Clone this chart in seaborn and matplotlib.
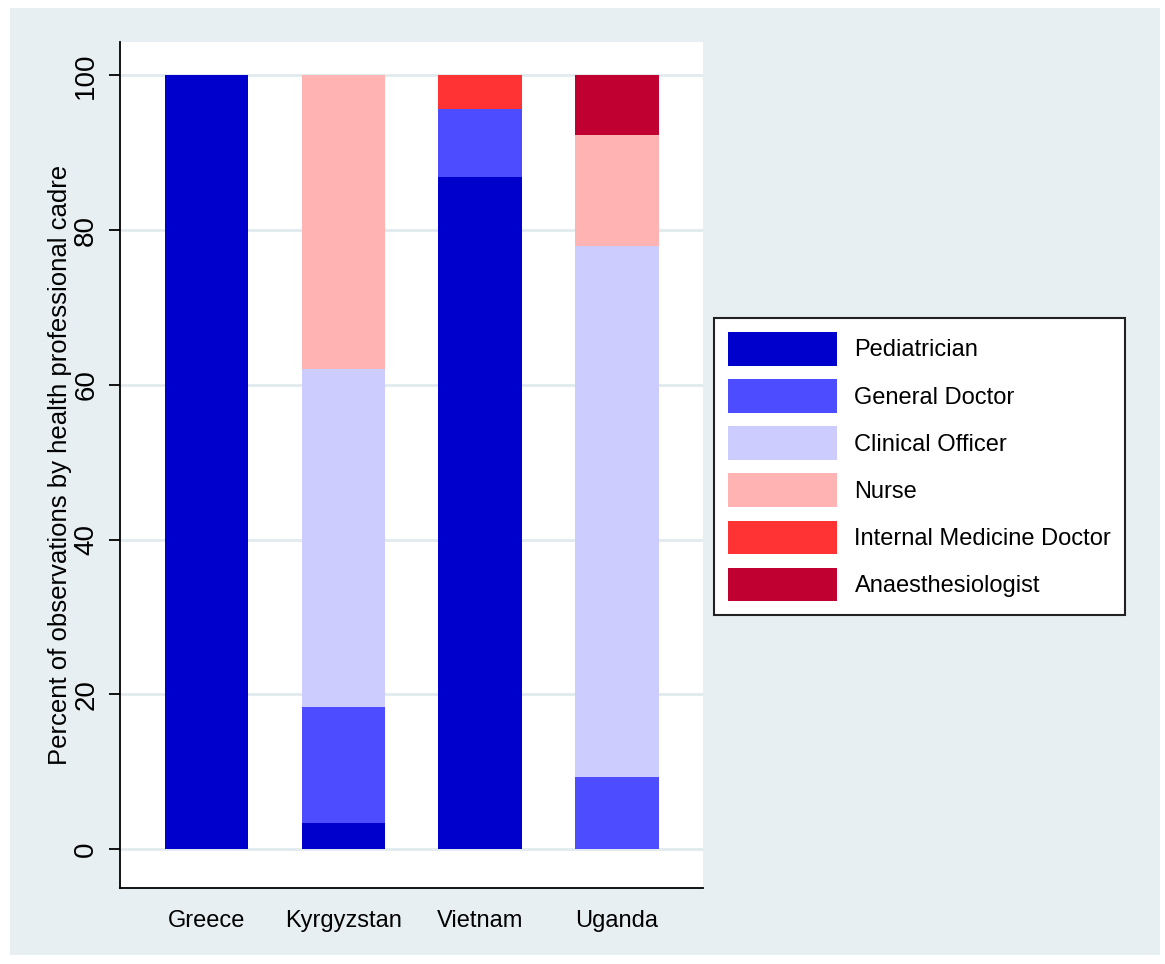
import matplotlib
matplotlib.use("Agg")
import matplotlib.pyplot as plt
from matplotlib.patches import Patch, Rectangle
import seaborn as sns
import numpy as np

# --- DADOS ---
countries = ["Greece", "Kyrgyzstan", "Vietnam", "Uganda"]
cadres = ["Pediatrician", "General Doctor", "Clinical Officer", "Nurse",
          "Internal Medicine Doctor", "Anaesthesiologist"]

pediatrician = [100.0, 3.4, 86.9, 0.0]
general_doctor = [0.0, 15.0, 8.8, 9.4]
clinical_officer = [0.0, 43.7, 0.0, 68.6]
nurse = [0.0, 37.9, 0.0, 14.3]
internal_medicine = [0.0, 0.0, 4.3, 0.0]
anaesthesiologist = [0.0, 0.0, 0.0, 7.7]

series = [pediatrician, general_doctor, clinical_officer, nurse,
          internal_medicine, anaesthesiologist]
colors = ["#0000cc", "#4d4dff", "#ccccff", "#ffb3b3", "#ff3333", "#c00030"]

# --- ESTILO ---
sns.set_style("white")
plt.rcParams["font.family"] = ["Liberation Sans", "DejaVu Sans"]
plt.rcParams["text.color"] = "black"
plt.rcParams["axes.labelcolor"] = "black"
plt.rcParams["xtick.color"] = "black"
plt.rcParams["ytick.color"] = "black"

fig = plt.figure(figsize=(11.65, 9.64), dpi=100, facecolor="white")
# fundo cinza-azulado estilo Stata
fig.patches.append(Rectangle((10 / 1165, 9 / 964), 1150 / 1165, 947 / 964,
                             transform=fig.transFigure, facecolor="#e8eff2",
                             edgecolor="none", zorder=-10))

ax = fig.add_axes([120 / 1165, 76 / 964, 583 / 1165, 846 / 964])
ax.set_facecolor("white")

# barras empilhadas
bottom = np.zeros(len(countries))
for vals, col in zip(series, colors):
    sns.barplot(x=countries, y=vals, bottom=bottom, color=col, order=countries,
                width=0.61, linewidth=0, saturation=1, ax=ax, zorder=3)
    bottom = bottom + np.array(vals)

ax.set_xlim(-0.632, 3.628)
ax.set_ylim(-5.0, 104.3)
ax.set_yticks([0, 20, 40, 60, 80, 100])
ax.yaxis.grid(True, color="#e1eaee", linewidth=2, zorder=0)
ax.xaxis.grid(False)
ax.set_axisbelow(True)

for side in ["top", "right"]:
    ax.spines[side].set_visible(False)
for side in ["left", "bottom"]:
    ax.spines[side].set_color("black")
    ax.spines[side].set_linewidth(1.3)

ax.tick_params(axis="y", direction="out", length=8, width=1.3, pad=7,
               labelsize=20, left=True, labelrotation=90)
for lab in ax.get_yticklabels():
    lab.set_va("center")
ax.tick_params(axis="x", length=0, pad=16, labelsize=17)

ax.set_xlabel("")
ax.set_ylabel("Percent of observations by health professional cadre",
              fontsize=18.5, labelpad=1)

handles = [Patch(facecolor=c, edgecolor="none", label=l) for c, l in zip(colors, cadres)]
leg = fig.legend(handles=handles, loc="upper left",
                 bbox_to_anchor=(714 / 1165, 1 - 318 / 964),
                 frameon=True, fancybox=False, edgecolor="#222222",
                 facecolor="white", framealpha=1,
                 fontsize=17, handlelength=4.6, handleheight=1.8,
                 handletextpad=0.75, labelspacing=0.58, borderpad=0.6,
                 borderaxespad=0)
leg.get_frame().set_linewidth(1.5)

plt.savefig("out.png", dpi=100, facecolor=fig.get_facecolor())
